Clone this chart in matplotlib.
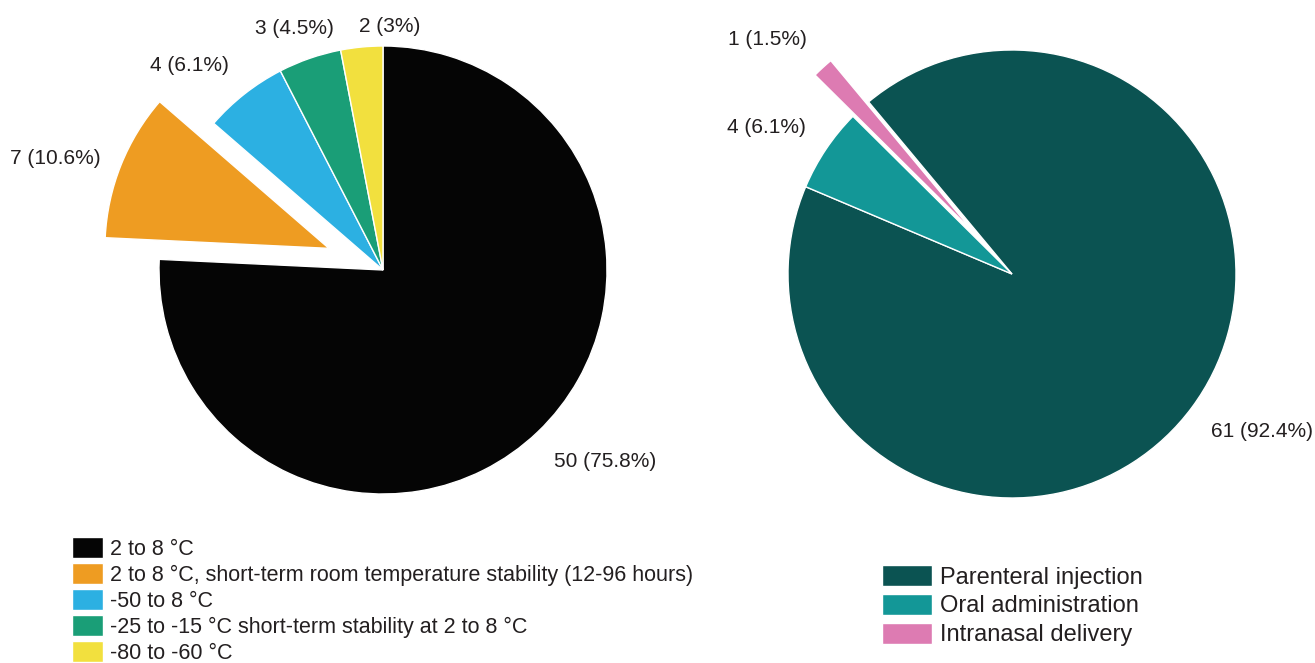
import matplotlib
matplotlib.use('Agg')
import matplotlib.pyplot as plt

plt.rcParams['font.family'] = ['Liberation Sans', 'DejaVu Sans']

# storage temperature
storage_labels = ['2 to 8 °C',
                  '2 to 8 °C, short-term room temperature stability (12-96 hours)',
                  '-50 to 8 °C',
                  '-25 to -15 °C short-term stability at 2 to 8 °C',
                  '-80 to -60 °C']
storage_counts = [50, 7, 4, 3, 2]
storage_pct = ['75.8', '10.6', '6.1', '4.5', '3']
storage_colors = ['#050505', '#EE9C22', '#2CB0E2', '#1A9E77', '#F2E03E']
storage_explode = [0, 0.26, 0, 0, 0]

# route of administration
route_labels = ['Parenteral injection', 'Oral administration', 'Intranasal delivery']
route_counts = [61, 4, 1]
route_pct = ['92.4', '6.1', '1.5']
route_colors = ['#0B5352', '#139797', '#DD7BB2']
route_explode = [0, 0, 0.25]

# label positions (in pie radius units)
storage_label_pos = [(0.99, -0.857), (-1.464, 0.5), (-0.862, 0.915), (-0.397, 1.08), (0.031, 1.089)]
route_label_pos = [(1.116, -0.705), (-1.098, 0.656), (-1.094, 1.045)]

W, H = 1315, 663
fig = plt.figure(figsize=(W / 100, H / 100), dpi=100)
txt_col = '#231F20'


def pie_axes(cx, cy, r):
	return fig.add_axes([(cx - r) / W, (H - cy - r) / H, 2 * r / W, 2 * r / H])


def draw_pie(ax, counts, pct, colors, explode, start, label_pos):
	wedges, _ = ax.pie(counts, colors=colors, explode=explode, startangle=start,
		counterclock=False, radius=1,
		wedgeprops=dict(edgecolor='white', linewidth=1))
	for w in wedges:
		w.set_clip_on(False)
	ax.set_xlim(-1, 1)
	ax.set_ylim(-1, 1)
	ax.set_aspect('equal')
	for c, p, (x, y) in zip(counts, pct, label_pos):
		ax.text(x, y, '%d (%s%%)' % (c, p), ha='center', va='center',
			fontsize=15, color=txt_col, clip_on=False)
	return wedges


ax1 = pie_axes(383, 270, 224)
w1 = draw_pie(ax1, storage_counts, storage_pct, storage_colors, storage_explode, 90, storage_label_pos)

ax2 = pie_axes(1012, 274, 224)
w2 = draw_pie(ax2, route_counts, route_pct, route_colors, route_explode, 129.8, route_label_pos)

leg1 = fig.legend(w1, storage_labels, loc='upper left', bbox_to_anchor=(72 / W, 1 - 537 / H),
	frameon=False, fontsize=15.5, handlelength=1.44, handleheight=1.1,
	labelspacing=0.16, handletextpad=0.33, borderpad=0, borderaxespad=0)
for t in leg1.get_texts():
	t.set_color(txt_col)

leg2 = fig.legend(w2, route_labels, loc='upper left', bbox_to_anchor=(882 / W, 1 - 565 / H),
	frameon=False, fontsize=17, handlelength=2.1, handleheight=1.0,
	labelspacing=0.22, handletextpad=0.34, borderpad=0, borderaxespad=0)
for t in leg2.get_texts():
	t.set_color(txt_col)

plt.savefig('out.png', dpi=100)
plt.close()
